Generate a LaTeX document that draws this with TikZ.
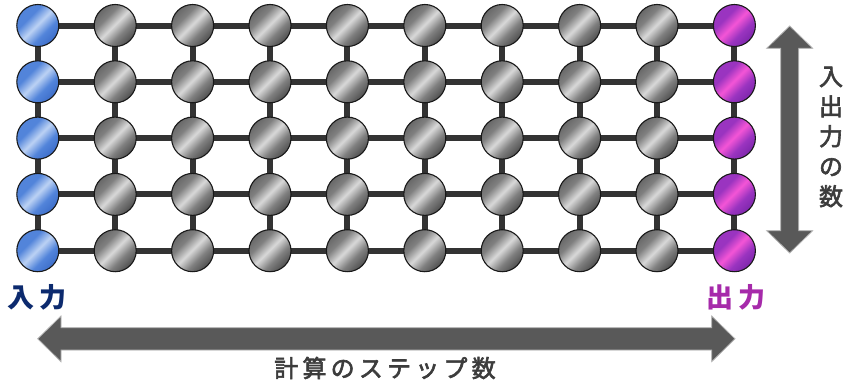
\documentclass[tikz,border=0pt]{standalone}
\usepackage{fontspec}
\newfontfamily\jp{Noto Sans CJK JP}
\newfontfamily\jpm[FakeBold=2.5]{Noto Sans CJK JP}
\usetikzlibrary{backgrounds}
\definecolor{linkc}{HTML}{333333}
\definecolor{arrowc}{HTML}{595959}
\definecolor{arrowb}{HTML}{B4B4B4}
\definecolor{textc}{HTML}{3C3C3C}
\definecolor{inc}{HTML}{0C2A6E}
\definecolor{outc}{HTML}{A62AAA}
\pgfdeclareverticalshading{metalgray}{100bp}{color(0bp)=(black!82); color(16bp)=(black!82); color(38bp)=(black!50); color(51bp)=(black!15); color(64bp)=(black!50); color(86bp)=(black!68); color(100bp)=(black!68)}
\definecolor{b1}{HTML}{2F5FBF}
\definecolor{b2}{HTML}{5284DA}
\definecolor{b3}{HTML}{BCD2F4}
\pgfdeclareverticalshading{metalblue}{100bp}{color(0bp)=(b1); color(16bp)=(b1); color(38bp)=(b2); color(51bp)=(b3); color(64bp)=(b2); color(86bp)=(b2); color(100bp)=(b2)}
\definecolor{p1}{HTML}{6A1E9E}
\definecolor{p2}{HTML}{9A34C0}
\definecolor{p3}{HTML}{F455D6}
\pgfdeclareverticalshading{metalpurple}{100bp}{color(0bp)=(p1); color(16bp)=(p1); color(38bp)=(p2); color(51bp)=(p3); color(64bp)=(p2); color(86bp)=(p2); color(100bp)=(p2)}
\tikzset{
  ball/.style={circle, minimum size=42pt, inner sep=0pt, draw=black!90, line width=1.1pt, shading angle=45},
  graynode/.style={ball, shading=metalgray},
  bluenode/.style={ball, shading=metalblue},
  purplenode/.style={ball, shading=metalpurple},
  link/.style={draw=linkc, line width=6pt},
  bigarrow/.style={fill=arrowc, draw=arrowb, line width=0.8pt},
}
\begin{document}
\begin{tikzpicture}[x=1pt,y=-1pt]
\useasboundingbox (0,0) rectangle (849,388);
\foreach \i in {0,...,9}{
  \foreach \j in {0,...,4}{
    \ifnum\i=0 \def\st{bluenode}\else\ifnum\i=9 \def\st{purplenode}\else\def\st{graynode}\fi\fi
    \node[\st] (c-\i-\j) at ({37.8+77.4*\i},{25.5+56.3*\j}) {};
  }
}
\begin{scope}[on background layer]
\foreach \i [evaluate=\i as \k using int(\i+1)] in {0,...,8}{
  \foreach \j in {0,...,4}{
    \draw[link] (c-\i-\j.center) -- (c-\k-\j.center);
  }
}
\foreach \i in {0,...,9}{
  \foreach \j [evaluate=\j as \m using int(\j+1)] in {0,...,3}{
    \draw[link] (c-\i-\j.center) -- (c-\i-\m.center);
  }
}
\end{scope}
% horizontal arrow
\draw[bigarrow] (37.7,338.8) -- (61,316) -- (61,327.7) -- (711.7,327.7) -- (711.7,316) -- (735,338.8) -- (711.7,361.7) -- (711.7,350) -- (61,350) -- (61,361.7) -- cycle;
% vertical arrow
\draw[bigarrow] (789.7,26) -- (812.7,48.3) -- (798.7,48.3) -- (798.7,230.7) -- (812.7,230.7) -- (789.7,253) -- (766.7,230.7) -- (780.7,230.7) -- (780.7,48.3) -- (766.7,48.3) -- cycle;
\node[text=inc, font=\jp\bfseries\fontsize{27}{27}\selectfont, inner sep=0pt] (inlabel) at (37.5,297.5) {入\hspace{5pt}力};
\node[text=outc, font=\jp\bfseries\fontsize{27}{27}\selectfont, inner sep=0pt] (outlabel) at (735.5,297.5) {出\hspace{5pt}力};
\node[text=textc, font=\jpm\fontsize{24}{24}\selectfont, inner sep=0pt] (steps) at (385,368) {計\hspace{4.2pt}算\hspace{4.2pt}の\hspace{4.2pt}ス\hspace{4.2pt}テ\hspace{4.2pt}ッ\hspace{4.2pt}プ\hspace{4.2pt}数};
\node[text=textc, font=\jpm\fontsize{24}{30}\selectfont, inner sep=0pt, align=center] (io) at (831,137) {入\\出\\力\\の\\数};
\end{tikzpicture}
\end{document}
